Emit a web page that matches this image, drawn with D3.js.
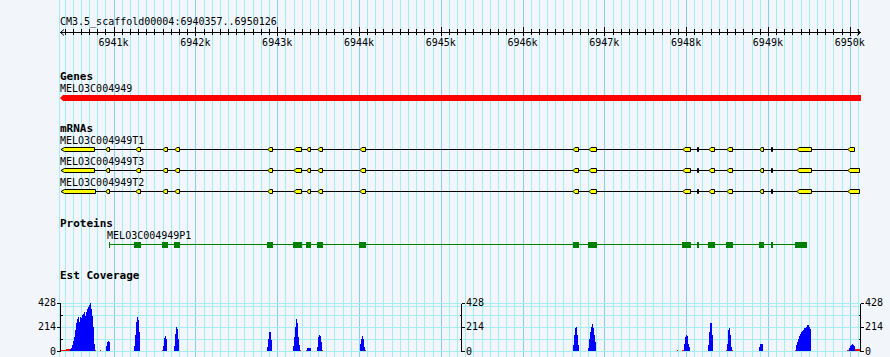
<!DOCTYPE html>
<html><head><meta charset="utf-8">
<script src="https://cdn.jsdelivr.net/npm/d3@7"></script>
<style>
body{margin:0;background:#f2f5fa}
svg{display:block}
text{font-family:"DejaVu Sans Mono","Liberation Mono",monospace;fill:#000}
</style>
</head><body><svg id="c" width="890" height="357"></svg>
<script>
// ---------------- data ----------------
const regionStart = 6940357, regionEnd = 6950126;
const regionTitle = "CM3.5_scaffold00004:6940357..6950126";
const majorTicks = [6941000,6942000,6943000,6944000,6945000,6946000,6947000,6948000,6949000,6950000];
const majorLabels = ["6941k","6942k","6943k","6944k","6945k","6946k","6947k","6948k","6949k","6950k"];
const minorStep = 100;

const geneName = "MELO3C004949";
const geneSpan = [6940357, 6950126];

const mrnaNames = ["MELO3C004949T1","MELO3C004949T3","MELO3C004949T2"];
const exonsT1 = [[6940357,6940775],[6940907,6940956],[6941274,6941331],[6941604,6941662],[6941751,6941812],[6942888,6942946],[6943206,6943300],[6943361,6943414],[6943503,6943557],[6944013,6944083],[6946621,6946690],[6946809,6946907],[6947966,6948057],[6948130,6948158],[6948280,6948350],[6948504,6948570],[6948904,6948953],[6949038,6949063],[6949353,6949536],[6949983,6950061]];
const exonsT3 = [[6940357,6940775],[6940907,6940956],[6941274,6941331],[6941604,6941662],[6941751,6941812],[6942888,6942946],[6943206,6943300],[6943361,6943414],[6943503,6943557],[6944013,6944083],[6946621,6946690],[6946809,6946907],[6947966,6948057],[6948130,6948158],[6948280,6948350],[6948504,6948570],[6948904,6948953],[6949038,6949063],[6949353,6949536],[6949983,6950126]];
const exonsT2 = [[6940357,6940785],[6940907,6940956],[6941274,6941331],[6941604,6941662],[6941751,6941812],[6942888,6942946],[6943206,6943300],[6943361,6943414],[6943503,6943557],[6944013,6944083],[6946621,6946690],[6946809,6946907],[6947966,6948057],[6948130,6948158],[6948280,6948350],[6948504,6948570],[6948904,6948953],[6949038,6949063],[6949353,6949536],[6949983,6950126]];

const proteinName = "MELO3C004949P1";
const cdsP1 = [[6940945,6940957],[6941250,6941335],[6941592,6941662],[6941739,6941812],[6942876,6942949],[6943190,6943300],[6943353,6943414],[6943484,6943557],[6943997,6944086],[6946613,6946690],[6946797,6946907],[6947950,6948057],[6948130,6948158],[6948268,6948350],[6948488,6948573],[6948891,6948953],[6949038,6949063],[6949332,6949479]];

const covMax = 428;
const covTicks = [0,214,428];
const covMinorTicks = [107,321];
const covGrid = [0,107,214,321,400,428];
const covLowThreshold = 16;
const covBinBp = 12.227;
const covStarts = [6940357,6940907,6941250,6941592,6941739,6942876,6943194,6943353,6943487,6944013,6946617,6946801,6947889,6947950,6948268,6948488,6948891,6949332,6949967];
const covValues = [
 [8,8,8,8,8,14,14,14,14,20,30,55,85,120,185,245,285,300,260,300,290,320,330,345,310,345,375,390,405,428,370,310,210,60,6,0,0,0,0,6],
 [48,77,92,83],
 [48,137,255,297,270,166],
 [6,48,113,128,107],
 [48,150,211,196,107],
 [36,110,169,169,95],
 [45,125,214,282,244,125,50,12],
 [10,30,30,30,30],
 [36,125,145,134,80,8],
 [65,110,131,110,36,8],
 [50,140,199,211,140,50],
 [30,110,170,214,235,199,140,80],
 [6],
 [12,12,65,125,140,134,65,36],
 [50,169,244,250,140],
 [12,65,184,205,140,36,10],
 [36,59,59,59],
 [9,50,80,110,134,154,169,175,184,199,205,215,226,229,215,190],
 [10,10,30,40,50,65,55,40,15,15,15,15,15,15]
];
const axisPositions = [regionStart, 6945244, regionEnd];

// ---------------- drawing ----------------
const svg = d3.select("#c");
const W = 890, H = 357;
const x = d3.scaleLinear().domain([regionStart, regionEnd]).range([61, 860]);
const px = v => Math.round(x(v));

// grid
const grid = svg.append("g").attr("shape-rendering","crispEdges");
grid.append("line").attr("x1",59.5).attr("x2",59.5).attr("y1",0).attr("y2",H).attr("stroke","#a4eef2");
const minorVals = d3.range(Math.ceil(regionStart/minorStep)*minorStep, regionEnd, minorStep).filter(v => v % 1000 !== 0);
grid.selectAll(".gm").data(minorVals).join("line")
  .attr("x1",d=>px(d)+0.5).attr("x2",d=>px(d)+0.5).attr("y1",0).attr("y2",H).attr("stroke","#a4eef2");
grid.selectAll(".gM").data(majorTicks).join("line")
  .attr("x1",d=>px(d)+0.5).attr("x2",d=>px(d)+0.5).attr("y1",0).attr("y2",H).attr("stroke","#88ccf0");

// top ruler
const ax = svg.append("g").attr("shape-rendering","crispEdges");
const ay = 32.5;
ax.append("line").attr("x1",60).attr("x2",861).attr("y1",ay).attr("y2",ay).attr("stroke","#000");
ax.append("path").attr("d",`M64,${ay-3}L60.5,${ay}L64,${ay+3}`).attr("fill","none").attr("stroke","#000").attr("shape-rendering","auto");
ax.append("path").attr("d",`M857,${ay-3}L860.5,${ay}L857,${ay+3}`).attr("fill","none").attr("stroke","#000").attr("shape-rendering","auto");
ax.selectAll(".tm").data(minorVals).join("line")
  .attr("x1",d=>px(d)+0.5).attr("x2",d=>px(d)+0.5).attr("y1",29).attr("y2",35).attr("stroke","#000");
ax.selectAll(".tM").data(majorTicks).join("line")
  .attr("x1",d=>px(d)+0.5).attr("x2",d=>px(d)+0.5).attr("y1",27).attr("y2",36).attr("stroke","#000");
svg.selectAll(".tl").data(majorTicks).join("text")
  .attr("x",d=>x(d)).attr("y",46).attr("text-anchor","middle").attr("font-size","10px")
  .text((d,i)=>majorLabels[i]);
svg.append("text").attr("x",60).attr("y",25).attr("font-size","10px").text(regionTitle);

// track titles
const titles = [["Genes",80],["mRNAs",131.5],["Proteins",227],["Est Coverage",279]];
svg.selectAll(".tt").data(titles).join("text")
  .attr("x",60).attr("y",d=>d[1]).attr("font-size","11px").attr("font-weight","bold").text(d=>d[0]);

// gene
svg.append("text").attr("x",60).attr("y",92).attr("font-size","10px").text(geneName);
const g0 = x(geneSpan[0]) - 1, g1 = x(geneSpan[1]) + 1;
svg.append("path").attr("d",`M${g0},98L${g0+3},95L${g1},95L${g1},101L${g0+3},101Z`).attr("fill","#ff0000");

// mRNAs
const mrnas = [exonsT1, exonsT3, exonsT2];
const mrnaY = [149.5, 170.5, 191.5];
const mrnaLabelY = [144, 165, 186];
mrnas.forEach((exons, k) => {
  const yc = mrnaY[k];
  const gm = svg.append("g");
  gm.append("text").attr("x",60).attr("y",mrnaLabelY[k]).attr("font-size","10px").text(mrnaNames[k]);
  gm.append("line").attr("x1",x(exons[0][0])).attr("x2",x(exons[exons.length-1][1]))
    .attr("y1",yc).attr("y2",yc).attr("stroke","#000").attr("stroke-width",1).attr("shape-rendering","crispEdges");
  gm.selectAll("path").data(exons).join("path")
    .attr("d",(d,i)=>{
      const a = px(d[0]) + 0.5, b = px(d[1]) - 0.5;
      const w = b - a;
      if (w < 2.5) return `M${a},${yc-2}L${b},${yc-2}L${b},${yc+2}L${a},${yc+2}Z`;
      const tip = i === 0 ? 3 : Math.min(1.5, w/3);
      return `M${a-0.5},${yc}L${a+tip},${yc-2}L${b},${yc-2}L${b},${yc+2}L${a+tip},${yc+2}Z`;
    })
    .attr("fill",d=> (px(d[1])-px(d[0]) < 3.5) ? "#000" : "#ffff00")
    .attr("stroke","#000").attr("stroke-width",1);
});

// protein
const pY = 244.5;
svg.append("text").attr("x",x(cdsP1[0][0])-2).attr("y",239).attr("font-size","10px").text(proteinName);
svg.append("line").attr("x1",x(cdsP1[0][0])).attr("x2",x(cdsP1[cdsP1.length-1][1]))
  .attr("y1",pY).attr("y2",pY).attr("stroke","#008000").attr("stroke-width",1.3).attr("shape-rendering","crispEdges");
svg.append("g").attr("shape-rendering","crispEdges").selectAll("rect").data(cdsP1).join("rect")
  .attr("x",d=>px(d[0])).attr("width",d=>Math.max(1,px(d[1])-px(d[0])))
  .attr("y",242).attr("height",5.5).attr("fill","#008000");

// coverage
const y = d3.scaleLinear().domain([0, covMax]).range([351, 302.5]);
const cg = svg.append("g").attr("shape-rendering","crispEdges");
cg.selectAll(".hg").data(covGrid).join("line")
  .attr("x1",60).attr("x2",861).attr("y1",d=>Math.round(y(d))+0.5).attr("y2",d=>Math.round(y(d))+0.5)
  .attr("stroke","#a4eef2");
const bins = [];
covStarts.forEach((s, r) => covValues[r].forEach((v, i) => {
  if (v > 0) bins.push({s: s + i*covBinBp, e: s + (i+1)*covBinBp, v});
}));
cg.selectAll(".bar").data(bins).join("rect")
  .attr("x",d=>px(d.s)).attr("width",d=>Math.max(1,px(d.e)-px(d.s)))
  .attr("y",d=>Math.round(y(d.v))).attr("height",d=>351-Math.round(y(d.v)))
  .attr("fill",d=>d.v < covLowThreshold ? "#ff0000" : "#0000ff");

// coverage axes
axisPositions.forEach((p, k) => {
  const ax0 = k === 0 ? 60.5 : Math.round(x(p)) + 0.5;
  const dir = k === 0 ? -1 : 1;
  const a = svg.append("g").attr("shape-rendering","crispEdges");
  a.append("line").attr("x1",ax0).attr("x2",ax0).attr("y1",Math.round(y(covMax))+0.5).attr("y2",Math.round(y(0))+0.5).attr("stroke","#000");
  a.selectAll(".mt").data(covTicks).join("line")
    .attr("x1",ax0).attr("x2",ax0+dir*3.5).attr("y1",d=>Math.round(y(d))+0.5).attr("y2",d=>Math.round(y(d))+0.5).attr("stroke","#000");
  a.selectAll(".nt").data(covMinorTicks).join("line")
    .attr("x1",ax0-dir*2).attr("x2",ax0).attr("y1",d=>Math.round(y(d))+0.5).attr("y2",d=>Math.round(y(d))+0.5).attr("stroke","#000");
  svg.append("g").selectAll("text").data(covTicks).join("text")
    .attr("x",ax0+dir*4.5).attr("y",d=>y(d)).attr("dy","0.35em")
    .attr("text-anchor",k===0?"end":"start").attr("font-size","10px").text(d=>d);
});
</script>
</body></html>
